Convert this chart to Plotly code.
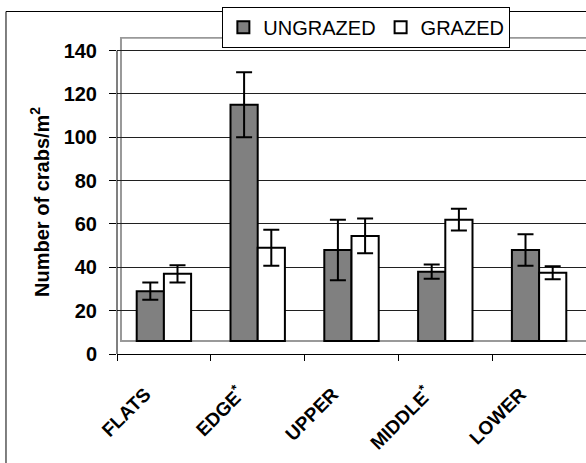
import plotly.graph_objects as go

categories = ["FLATS", "EDGE<sup>*</sup>", "UPPER", "MIDDLE<sup>*</sup>", "LOWER"]
ungrazed = [29, 115, 48, 38, 48]
ungrazed_err = [4, 15, 14, 3.3, 7.3]
grazed = [37, 49, 54.5, 62, 37.5]
grazed_err = [4, 8.3, 8, 5, 3]
y_ticks = [0, 20, 40, 60, 80, 100, 120, 140]

FLOOR = 6  # visual floor of the pseudo-3D chart
FONT = "Arial, Liberation Sans, sans-serif"
PAD = "\u00a0" * 5  # nudges the rotated labels so they hang like the original

fig = go.Figure()
for name, vals, errs, fill in [("UNGRAZED", ungrazed, ungrazed_err, "#808080"),
                               ("GRAZED", grazed, grazed_err, "#ffffff")]:
    fig.add_trace(go.Bar(
        name=name, x=categories, y=[v - FLOOR for v in vals], base=FLOOR,
        marker=dict(color=fill, line=dict(color="black", width=2)),
        error_y=dict(type="data", array=errs, color="black", thickness=2, width=8),
    ))

fig.update_layout(
    width=586, height=463,
    margin=dict(l=117, r=0, t=37, b=109),
    paper_bgcolor="white", plot_bgcolor="white",
    barmode="group", bargap=0.42, bargroupgap=0,
    font=dict(family=FONT, color="black"),
    showlegend=True,
    legend=dict(orientation="h", x=0.5317, xanchor="center", y=1.031, yanchor="middle",
                bgcolor="white", bordercolor="black", borderwidth=1,
                font=dict(size=20, family=FONT, color="black"),
                itemwidth=30, traceorder="normal"),
    xaxis=dict(type="category", showline=True, linecolor="black", linewidth=1,
               ticks="outside", tickson="boundaries", ticklen=6, tickcolor="black",
               tickangle=-45, ticklabelstandoff=2,
               tickvals=categories, ticktext=[c + PAD for c in categories],
               tickfont=dict(size=19, family=FONT, weight="bold"),
               showgrid=False),
    yaxis=dict(range=[0, 146.3], tickvals=y_ticks, showline=False,
               ticks="outside", ticklen=7, tickcolor="black", ticklabelstandoff=8,
               tickfont=dict(size=20, family=FONT, weight="bold"),
               showgrid=True, gridcolor="#202020", gridwidth=1, zeroline=False),
    annotations=[dict(text="Number of crabs/m<sup>2</sup>", textangle=-90,
                      xref="paper", yref="paper", x=-0.164, y=0.48,
                      xanchor="center", yanchor="middle", showarrow=False,
                      font=dict(size=20, family=FONT, weight="bold", color="black"))],
    shapes=[
        # back wall of pseudo-3D chart
        dict(type="rect", xref="paper", yref="y", x0=0.0085, x1=1.05, y0=FLOOR, y1=146,
             line=dict(color="#999999", width=2), fillcolor="rgba(0,0,0,0)", layer="below"),
        # y axis line
        dict(type="line", xref="paper", yref="y", x0=0, x1=0, y0=0, y1=140,
             line=dict(color="black", width=1)),
        # outer chart frame
        dict(type="rect", xref="paper", yref="paper", x0=-0.2367, x1=1.1, y0=-0.5, y1=1.0804,
             line=dict(color="black", width=1), fillcolor="rgba(0,0,0,0)", layer="below"),
    ],
)

fig.write_html("out.html", config={"displayModeBar": False},
               post_script="document.body.style.margin='0';")
